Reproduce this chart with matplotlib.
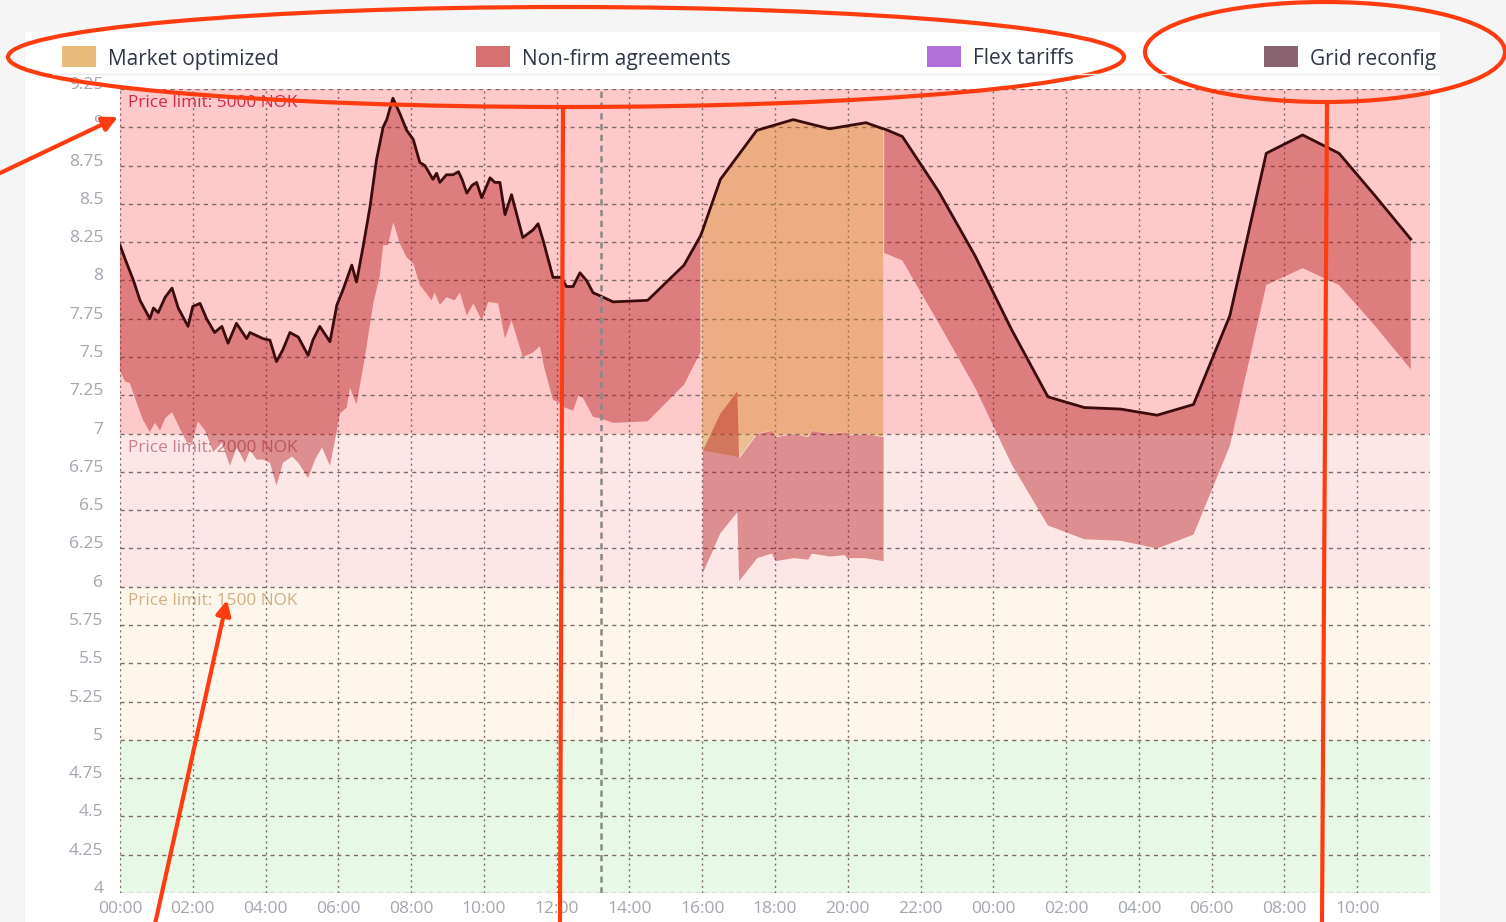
import numpy as np
import matplotlib.pyplot as plt
from matplotlib.patches import Rectangle, Ellipse

plt.rcParams['font.family'] = ['Open Sans', 'DejaVu Sans']

# price curve, hours counted from 00:00 on the first day
price_hours = [0.0, 0.14, 0.37, 0.55, 0.82, 0.92, 1.05, 1.24, 1.43, 1.6, 1.87, 2.0, 2.2, 2.38,
               2.6, 2.8, 2.97, 3.2, 3.48, 3.57, 3.93, 4.12, 4.3, 4.48, 4.67, 4.9, 5.17, 5.3,
               5.49, 5.77, 5.96, 6.13, 6.37, 6.5, 6.68, 6.87, 7.05, 7.23, 7.33, 7.5, 7.69,
               7.88, 8.06, 8.24, 8.38, 8.6, 8.7, 8.79, 8.97, 9.15, 9.3, 9.4, 9.53, 9.67, 9.8,
               9.94, 10.17, 10.3, 10.44, 10.58, 10.76, 11.07, 11.35, 11.49, 11.63, 11.72,
               11.9, 12.13, 12.27, 12.45, 12.64, 12.82, 13.0, 13.19, 13.55, 14.5, 15.5,
               15.95, 16.0, 16.5, 17.5, 18.5, 19.5, 20.5, 20.97, 21.0, 21.5, 22.5, 23.5,
               24.5, 25.5, 26.5, 27.5, 28.5, 29.5, 30.5, 31.5, 32.5, 33.5, 34.5, 35.47]
price_values = [8.23, 8.14, 8.0, 7.87, 7.75, 7.82, 7.79, 7.89, 7.95, 7.82, 7.7, 7.83, 7.85, 7.75,
                7.66, 7.7, 7.59, 7.72, 7.62, 7.66, 7.62, 7.61, 7.47, 7.55, 7.66, 7.63, 7.51, 7.61,
                7.7, 7.6, 7.84, 7.94, 8.1, 7.99, 8.22, 8.48, 8.79, 9.0, 9.05, 9.19, 9.09,
                8.98, 8.92, 8.77, 8.75, 8.66, 8.7, 8.64, 8.69, 8.69, 8.71, 8.66, 8.57, 8.62, 8.64,
                8.54, 8.67, 8.64, 8.64, 8.43, 8.56, 8.28, 8.33, 8.37, 8.26, 8.18,
                8.02, 8.02, 7.96, 7.96, 8.05, 8.0, 7.92, 7.9, 7.86, 7.87, 8.1,
                8.29, 8.32, 8.66, 8.98, 9.05, 8.99, 9.03, 8.99, 8.99, 8.94, 8.58, 8.16,
                7.68, 7.24, 7.17, 7.16, 7.12, 7.19, 7.77, 8.83, 8.95, 8.83, 8.55, 8.27]

# lower edge of non-firm agreements before 16:00
early_hours = [0.0, 0.14, 0.27, 0.46, 0.63, 0.82, 0.96, 1.1, 1.24, 1.43, 1.59, 1.84, 1.98, 2.14,
               2.34, 2.56, 2.8, 3.02, 3.21, 3.43, 3.57, 3.76, 3.93, 4.12, 4.3, 4.48, 4.73,
               4.9, 5.17, 5.36, 5.55, 5.77, 5.96, 6.04, 6.23, 6.32, 6.5, 6.73, 6.96, 7.14,
               7.23, 7.36, 7.51, 7.69, 7.88, 8.06, 8.24, 8.47, 8.56, 8.65, 8.79, 8.97, 9.2,
               9.34, 9.53, 9.71, 9.94, 10.12, 10.39, 10.58, 10.76, 11.07, 11.35, 11.54,
               11.67, 11.9, 12.09, 12.22, 12.45, 12.6, 12.73, 13.0, 13.19, 13.55, 14.5,
               15.5, 15.95]
early_low = [7.41, 7.34, 7.33, 7.2, 7.09, 7.01, 7.07, 7.02, 7.1, 7.14, 7.06, 6.94, 6.94, 7.08,
             7.02, 6.88, 6.94, 6.79, 6.91, 6.81, 6.89, 6.83, 6.83, 6.81, 6.66, 6.81, 6.85,
             6.81, 6.71, 6.83, 6.91, 6.79, 7.02, 7.13, 7.17, 7.3, 7.19, 7.5, 7.85, 8.03,
             8.23, 8.23, 8.38, 8.24, 8.15, 8.11, 7.97, 7.9, 7.87, 7.92, 7.84, 7.89, 7.87,
             7.92, 7.77, 7.85, 7.74, 7.86, 7.85, 7.62, 7.74, 7.5, 7.53, 7.57,
             7.42, 7.22, 7.2, 7.17, 7.15, 7.25, 7.23, 7.11, 7.1, 7.07, 7.08,
             7.32, 7.53]

# 16:00-21:00 block with market optimized on top
block_hours = [16.0, 16.48, 16.95, 17.0, 17.5, 17.9, 18.0, 18.5, 18.9, 19.0, 19.5, 19.9,
               19.97, 20.47, 20.97]
block_nonfirm_top = [6.89, 7.13, 7.28, 6.84, 7.0, 7.02, 6.98, 7.0, 6.98, 7.02, 7.0, 7.01,
                     6.99, 7.0, 6.98]
block_nonfirm_low = [6.09, 6.35, 6.49, 6.04, 6.19, 6.22, 6.17, 6.19, 6.18, 6.22, 6.2, 6.21,
                     6.19, 6.19, 6.17]
block_market_low = [6.89, 6.87, 6.85, 6.84, 7.0, 7.02, 6.98, 7.0, 6.98, 7.02, 7.0, 7.01,
                    6.99, 7.0, 6.98]

# lower edge of non-firm agreements after 21:00
late_hours = [21.0, 21.5, 22.5, 23.5, 24.5, 25.5, 26.5, 27.5, 28.5, 29.5, 30.5, 31.5, 32.5,
              33.5, 34.5, 35.47]
late_low = [8.18, 8.13, 7.72, 7.3, 6.8, 6.4, 6.31, 6.3, 6.25, 6.34, 6.92, 7.97, 8.08,
            7.97, 7.7, 7.42]

now_hour = 13.21

band_edges = [9.25, 7.0, 6.0, 5.0, 4.0]
band_colors = ['#fec9c9', '#fce6e6', '#fef6ea', '#e7f9e6']
band_labels = ['Price limit: 5000 NOK', 'Price limit: 2000 NOK', 'Price limit: 1500 NOK', None]
band_label_colors = ['#d22a4a', '#c4838c', '#cfb184', None]

legend_names = ['Market optimized', 'Non-firm agreements', 'Flex tariffs', 'Grid reconfig']
legend_colors = ['#e8bb7a', '#d47070', '#b06fd9', '#8a6471']
legend_x = [62, 476, 927, 1264]

red_fill = (0.70, 0.08, 0.08, 0.42)
orange_fill = (0.82, 0.52, 0.10, 0.40)
mark = '#ff3c10'

W, H = 1506, 922
fig = plt.figure(figsize=(W / 100, H / 100), dpi=100, facecolor='#f5f5f5')

bg = fig.add_axes([0, 0, 1, 1], zorder=-5)
bg.set_xlim(0, W)
bg.set_ylim(H, 0)
bg.axis('off')
bg.add_patch(Rectangle((25, 32), 1415, 900, fc='white', ec='none'))

ax = fig.add_axes([120 / W, (H - 893) / H, 1310 / W, 804 / H])
ax.set_facecolor('none')
ax.set_xlim(0, 36)
ax.set_ylim(4, 9.25)
for s in ax.spines.values():
    s.set_visible(False)

for i in range(4):
    ax.axhspan(band_edges[i + 1], band_edges[i], color=band_colors[i], lw=0, zorder=0)
    if band_labels[i]:
        ax.annotate(band_labels[i], xy=(0, band_edges[i]), xytext=(8, -14),
                    textcoords='offset pixels', va='center', ha='left',
                    fontsize=12.4, color=band_label_colors[i], zorder=1)

ph = np.array(price_hours)
pv = np.array(price_values)

m = ph <= 15.95
ax.fill(np.r_[ph[m], early_hours[::-1]], np.r_[pv[m], early_low[::-1]],
        color=red_fill, lw=0, zorder=2)

m = (ph >= 16.0) & (ph <= 20.97)
ax.fill(np.r_[ph[m], block_hours[::-1]], np.r_[pv[m], block_market_low[::-1]],
        color=orange_fill, lw=0, zorder=2)
ax.fill_between(block_hours, block_nonfirm_low, block_nonfirm_top,
                color=red_fill, lw=0, zorder=2.1)

m = ph >= 21.0
ax.fill(np.r_[ph[m], late_hours[::-1]], np.r_[pv[m], late_low[::-1]],
        color=red_fill, lw=0, zorder=2)

ax.plot(ph, pv, color='#3a0c0c', lw=2.0, solid_joinstyle='round', zorder=4)
ax.axvline(now_hour, color='#888888', lw=1.8, ls=(0, (2.5, 1.8)), zorder=5)

ax.set_xticks(np.arange(0, 35, 2))
ax.set_xticklabels([f'{int(h) % 24:02d}:00' for h in np.arange(0, 35, 2)])
ax.set_yticks(np.arange(4, 9.26, 0.25))
ax.set_yticklabels([f'{v:g}' for v in np.arange(4, 9.26, 0.25)])
ax.tick_params(axis='both', length=0, labelsize=12.5, labelcolor='#a3a6ae')
ax.tick_params(axis='y', pad=12)
ax.tick_params(axis='x', pad=6)
for lab in ax.get_yticklabels():
    lab.set_va('baseline')

ax.yaxis.grid(True, color=(0.5, 0.42, 0.42, 0.18), lw=1, ls=(0, (3, 3)), zorder=3)
ax.xaxis.grid(True, color=(0.5, 0.42, 0.42, 0.2), lw=1, ls=(0, (1.5, 2.5)), zorder=3)

# legend strip and hand-drawn markings on top
ov = fig.add_axes([0, 0, 1, 1], zorder=10)
ov.set_xlim(0, W)
ov.set_ylim(H, 0)
ov.axis('off')
ov.patch.set_alpha(0)
ov.add_patch(Rectangle((53, 32), 1387, 42, fc='white', ec='none'))
ov.plot([53, 1440], [74, 74], color='#ececec', lw=1)
for name, col, x in zip(legend_names, legend_colors, legend_x):
    ov.add_patch(Rectangle((x, 46), 34, 21, fc=col, ec='none'))
    ov.text(x + 46, 59, name, fontsize=15, color='#2f3646', va='center', ha='left')

ov.add_patch(Ellipse((566, 57), 1116, 100, fill=False, ec=mark, lw=3))
ov.add_patch(Ellipse((1325, 52), 360, 100, fill=False, ec=mark, lw=3))
ov.plot([563, 560], [107, 922], color=mark, lw=3, solid_capstyle='butt')
ov.plot([1327, 1322], [101, 922], color=mark, lw=3, solid_capstyle='butt')
ov.annotate('', xy=(118, 117), xytext=(-2, 174),
            arrowprops=dict(arrowstyle='-|>', color=mark, lw=3, mutation_scale=22,
                            shrinkA=0, shrinkB=0))
ov.annotate('', xy=(227, 600), xytext=(155, 924),
            arrowprops=dict(arrowstyle='-|>', color=mark, lw=3, mutation_scale=22,
                            shrinkA=0, shrinkB=0))

fig.savefig('out.png', dpi=100, facecolor=fig.get_facecolor())
